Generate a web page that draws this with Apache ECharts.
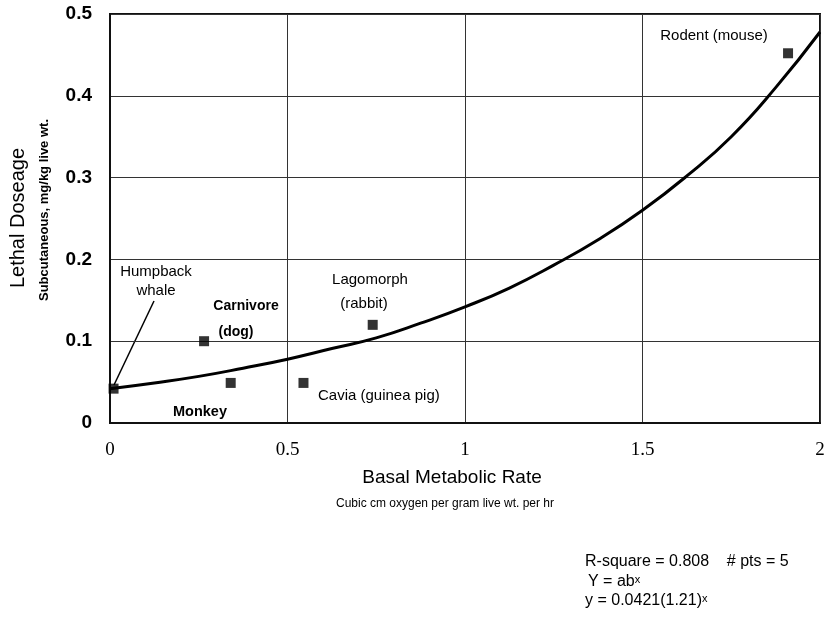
<!DOCTYPE html>
<html>
<head>
<meta charset="utf-8">
<script src="https://cdn.jsdelivr.net/npm/echarts@6/dist/echarts.min.js"></script>
<style>html,body{margin:0;padding:0;background:#fff}#c{width:829px;height:620px}</style>
</head>
<body>
<div id="c"></div>
<script>
// Observed data points (Basal metabolic rate, lethal dose)
var animalNames = ['Humpback whale', 'Carnivore (dog)', 'Monkey', 'Cavia (guinea pig)', 'Lagomorph (rabbit)', 'Rodent (mouse)'];
var metabolicRate = [0.01, 0.265, 0.34, 0.545, 0.74, 1.91];
var lethalDose = [0.042, 0.100, 0.049, 0.049, 0.120, 0.452];

// Fitted curve
var curveX = [0, 0.125, 0.25, 0.375, 0.5, 0.625, 0.75, 0.875, 1.0, 1.125, 1.25, 1.375, 1.5, 1.625, 1.75, 1.875, 2.0];
var curveY = [0.042, 0.049, 0.057, 0.067, 0.078, 0.091, 0.104, 0.122, 0.142, 0.165, 0.193, 0.224, 0.260, 0.302, 0.350, 0.410, 0.478];

var xTicks = [0, 0.5, 1, 1.5, 2];
var yTicks = [0, 0.1, 0.2, 0.3, 0.4, 0.5];

var points = metabolicRate.map(function (x, i) { return [x, lethalDose[i]]; });
var curve = curveX.map(function (x, i) { return [x, curveY[i]]; });

var sans = 'Liberation Sans, Arial, sans-serif';
var serif = 'Liberation Serif, Times New Roman, serif';

function txt(x, y, s, font, align) {
  return {type: 'text', x: x, y: y, style: {text: s, font: font, fill: '#000', textAlign: align || 'center', textVerticalAlign: 'middle'}};
}

var chart = echarts.init(document.getElementById('c'), null, {renderer: 'canvas'});
chart.setOption({
  animation: false,
  backgroundColor: '#fff',
  grid: {left: 110, right: 9, top: 14, bottom: 197, show: true, borderColor: '#111', borderWidth: 2, backgroundColor: 'transparent'},
  xAxis: {
    type: 'value', min: xTicks[0], max: xTicks[xTicks.length - 1], interval: 0.5,
    axisLine: {show: true, lineStyle: {color: '#111', width: 2}},
    axisTick: {show: false},
    splitLine: {show: true, lineStyle: {color: '#333', width: 1}},
    axisLabel: {color: '#000', fontFamily: serif, fontSize: 19, margin: 18,
      formatter: function (v) { return xTicks.indexOf(v) >= 0 ? String(v) : ''; }}
  },
  yAxis: {
    type: 'value', min: yTicks[0], max: yTicks[yTicks.length - 1], interval: 0.1,
    axisLine: {show: true, lineStyle: {color: '#111', width: 2}},
    axisTick: {show: false},
    splitLine: {show: true, lineStyle: {color: '#333', width: 1}},
    axisLabel: {color: '#000', fontFamily: sans, fontWeight: 'bold', fontSize: 19, margin: 18,
      formatter: function (v) { return String(Math.round(v * 10) / 10); }}
  },
  series: [
    {type: 'line', data: curve, smooth: true, showSymbol: false, symbol: 'none',
      lineStyle: {color: '#000', width: 3}, z: 3},
    {type: 'scatter', data: points, symbol: 'rect', symbolSize: 10,
      itemStyle: {color: '#000'}, z: 4}
  ],
  graphic: [
    {type: 'text', rotation: Math.PI / 2, x: 18, y: 218,
      style: {text: 'Lethal Doseage', font: '20px ' + sans, fill: '#000', textAlign: 'center', textVerticalAlign: 'middle'}},
    {type: 'text', rotation: Math.PI / 2, x: 44, y: 210,
      style: {text: 'Subcutaneous, mg/kg live wt.', font: 'bold 13px ' + sans, fill: '#000', textAlign: 'center', textVerticalAlign: 'middle'}},
    txt(452, 478, 'Basal Metabolic Rate', '19px ' + sans),
    txt(445, 504, 'Cubic cm oxygen per gram live wt. per hr', '12px ' + sans),
    txt(585, 562, 'R-square = 0.808    # pts = 5', '16px ' + sans, 'left'),
    {type: 'text', x: 588, y: 582,
      style: {rich: {n: {font: '16px ' + sans, fill: '#000'}, s: {font: '11px ' + sans, fill: '#000', verticalAlign: 'top'}},
        text: '{n|Y = ab}{s|x}', textAlign: 'left', textVerticalAlign: 'middle'}},
    {type: 'text', x: 585, y: 601,
      style: {rich: {n: {font: '16px ' + sans, fill: '#000'}, s: {font: '11px ' + sans, fill: '#000', verticalAlign: 'top'}},
        text: '{n|y = 0.0421(1.21)}{s|x}', textAlign: 'left', textVerticalAlign: 'middle'}},
    // point labels
    txt(714, 36, 'Rodent (mouse)', '15px ' + sans),
    txt(156, 272, 'Humpback', '15px ' + sans),
    txt(156, 291, 'whale', '15px ' + sans),
    {type: 'line', shape: {x1: 114, y1: 385, x2: 154, y2: 301}, style: {stroke: '#000', lineWidth: 1.5}},
    txt(246, 306, 'Carnivore', 'bold 14px ' + sans),
    txt(236, 332, '(dog)', 'bold 14px ' + sans),
    txt(200, 412, 'Monkey', 'bold 14.5px ' + sans),
    txt(370, 280, 'Lagomorph', '15px ' + sans),
    txt(364, 304, '(rabbit)', '15px ' + sans),
    txt(318, 396, 'Cavia (guinea pig)', '15px ' + sans, 'left')
  ]
});
</script>
</body>
</html>
